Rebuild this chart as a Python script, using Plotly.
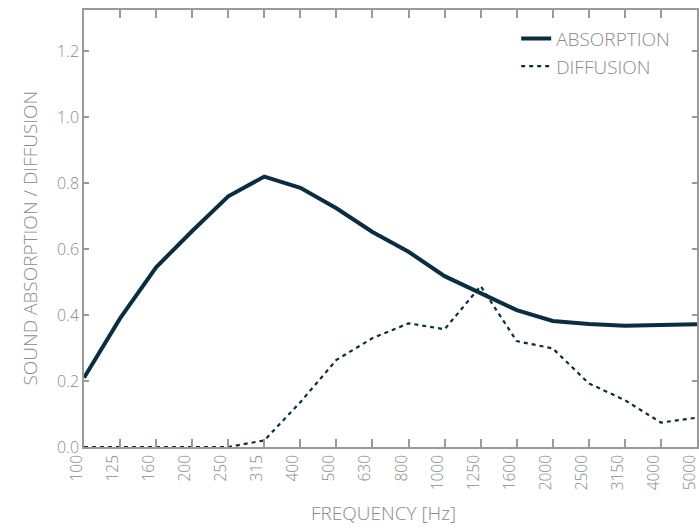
import plotly.graph_objects as go

freqs = ["100", "125", "160", "200", "250", "315", "400", "500", "630", "800",
         "1000", "1250", "1600", "2000", "2500", "3150", "4000", "5000"]
absorption = [0.21, 0.39, 0.545, 0.655, 0.76, 0.82, 0.786, 0.724, 0.652, 0.592,
              0.518, 0.465, 0.415, 0.382, 0.373, 0.368, 0.37, 0.372]
diffusion = [0.0, 0.0, 0.0, 0.0, 0.0, 0.02, 0.136, 0.264, 0.33, 0.375,
             0.357, 0.488, 0.321, 0.299, 0.193, 0.142, 0.074, 0.089]
y_ticks = [0.0, 0.2, 0.4, 0.6, 0.8, 1.0, 1.2]
x_title = "FREQUENCY [Hz]"
y_title = "SOUND ABSORPTION / DIFFUSION"

navy = "#0b2d42"
gray = "#8a8a8a"
axis_gray = "#9a9a9a"
font_family = "Open Sans, Lato, sans-serif"

fig = go.Figure()
fig.add_trace(go.Scatter(x=freqs, y=absorption, mode="lines", name="ABSORPTION",
                         line=dict(color=navy, width=4)))
fig.add_trace(go.Scatter(x=freqs, y=diffusion, mode="lines", name="DIFFUSION",
                         line=dict(color=navy, width=2.2, dash="4px,4px")))

fig.update_layout(
    width=699, height=529,
    margin=dict(l=84, r=2, t=10, b=82, autoexpand=False),
    plot_bgcolor="white", paper_bgcolor="white",
    font=dict(family=font_family, color=gray, size=15, weight=300),
    showlegend=True,
    legend=dict(x=0.705, y=0.978, xanchor="left", yanchor="top",
                bgcolor="rgba(0,0,0,0)", font=dict(size=19, color=gray, weight=300),
                itemwidth=30, tracegroupgap=0),
    annotations=[
        dict(text=x_title, xref="paper", yref="paper", x=0.4878, y=-0.151,
             xanchor="center", yanchor="middle", showarrow=False,
             font=dict(size=19, color=gray, weight=300)),
        dict(text=y_title, xref="paper", yref="paper", x=-0.0873, y=0.478,
             xanchor="center", yanchor="middle", showarrow=False, textangle=-90,
             font=dict(size=19, color=gray, weight=300)),
    ],
)
fig.update_xaxes(
    type="category", range=[0, 17], automargin=False,
    showline=True, linecolor=axis_gray, linewidth=1.5, mirror="ticks",
    ticks="inside", ticklen=8, tickcolor=axis_gray, tickwidth=1.5,
    tickangle=-90, ticklabelshift=-7, tickfont=dict(size=15.5, color=gray, weight=300),
    showgrid=False, zeroline=False,
)
fig.update_yaxes(
    range=[0, 1.325], tickvals=y_ticks, ticktext=[f"{v:.1f}" for v in y_ticks],
    automargin=False,
    showline=True, linecolor=axis_gray, linewidth=1.5, mirror="ticks",
    ticks="inside", ticklen=5, tickcolor=axis_gray, tickwidth=1.5,
    tickfont=dict(size=16, color=gray, weight=300),
    showgrid=False, zeroline=False,
)

fig.write_html(
    "out.html",
    config={"displayModeBar": False},
    post_script="document.body.style.margin='0';document.body.style.overflow='hidden';",
)
